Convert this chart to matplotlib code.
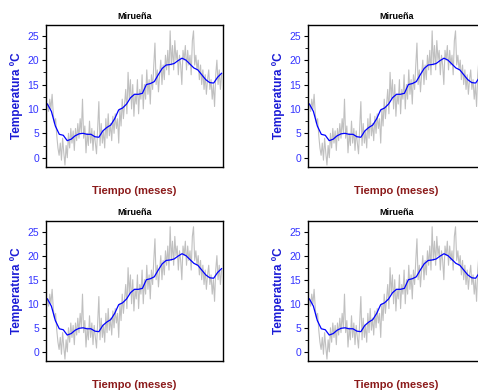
import numpy as np
import matplotlib
matplotlib.use('Agg')
import matplotlib.pyplot as plt
from matplotlib.ticker import MultipleLocator

plt.rcParams['font.family'] = ['Liberation Sans', 'DejaVu Sans']

titulo = 'Mirueña'
etiqueta_y = 'Temperatura ºC'
etiqueta_x = 'Tiempo (meses)'
yticks = [0, 5, 10, 15, 20, 25]

# daily temperature (grey, noisy)
temp_diaria = [
    11, 9.5, 12, 10, 13, 9,
    7, 8, 4.5, 2, 0.5,
    3, -0.5, 4, 1, -1.5, 2.5, 0, 5,
    2, 6, 3, 5.5, 1.5, 6, 3.5, 7, 4, 8,
    5, 12, 4,
    6.5, 1, 5, 2.5, 7.5, 3, 6, 1.5, 5.5, 3, 0.8,
    6, 11.5, 2.5,
    7, 3, 5.5, 2, 8, 4, 9, 4.5, 7,
    3.5, 8.5, 5, 9, 6, 8,
    3, 10, 6.5, 12, 8, 11,
    14, 9, 17.5, 12, 16, 10,
    15, 8.5, 13, 11, 16, 9, 14, 12,
    17, 10, 15, 12, 18, 13, 16, 11, 17, 14,
    19, 23.5, 15,
    18, 13.5, 17, 20, 15, 19, 16, 21, 18,
    22, 17, 26,
    19, 23, 18, 24, 20, 22, 17, 21, 19, 15, 22,
    20, 23, 18, 22, 19, 21, 17, 24, 26, 19,
    21, 18, 20, 16, 19, 15, 18, 14, 17, 13, 16,
    18, 14, 16, 12, 15, 10.5, 17,
    20, 15, 18, 14, 17,
]

# smoothed temperature (blue)
temp_suavizada = [
    11.0, 9.5, 6.5, 4.8, 4.6, 3.5, 3.8, 4.5, 4.9, 5.0,
    4.8, 4.8, 4.3, 4.2, 5.5, 6.2, 6.7, 8.0, 9.8, 10.2,
    11.0, 12.3, 13.0, 13.0, 13.2, 15.0, 15.2, 15.6, 17.0, 18.3,
    19.0, 19.1, 19.3, 19.9, 20.4, 20.0, 19.2, 18.4, 18.0, 17.0,
    16.0, 15.4, 15.3, 16.5, 17.3,
]

W, H = 478, 392
fig = plt.figure(figsize=(W / 100, H / 100), dpi=100)

posiciones = [
    (46, 25, 177, 142),
    (308, 25, 177, 142),
    (46, 221, 177, 140),
    (308, 221, 177, 140),
]

for (l, t, w, h) in posiciones:
    ax = fig.add_axes([l / W, 1 - (t + h) / H, w / W, h / H])
    x1 = np.linspace(0, 365, len(temp_diaria))
    x2 = np.linspace(0, 365, len(temp_suavizada))
    ax.plot(x1, temp_diaria, color='#c0c0c0', lw=0.8)
    ax.plot(x2, temp_suavizada, color='#0000ff', lw=0.9)
    ax.set_xlim(-3, 368)
    ax.set_ylim(-1.9, 27.2)
    ax.set_xticks([])
    ax.set_yticks(yticks)
    ax.yaxis.set_minor_locator(MultipleLocator(2.5))
    ax.tick_params(axis='y', which='major', length=3, width=0.8, pad=2,
                   labelsize=7.5, labelcolor='#3333ff')
    ax.tick_params(axis='y', which='minor', length=2, width=0.6)
    for s in ax.spines.values():
        s.set_linewidth(1.0)
    ax.set_title(titulo, fontsize=6.5, fontweight='bold', pad=4)
    ax.set_ylabel(etiqueta_y, color='#1a1ad6', fontsize=8.5, fontweight='bold', labelpad=3)
    ax.set_xlabel(etiqueta_x, color='#8b1a1a', fontsize=8, fontweight='bold', labelpad=14)

fig.savefig('out.png', dpi=100)
